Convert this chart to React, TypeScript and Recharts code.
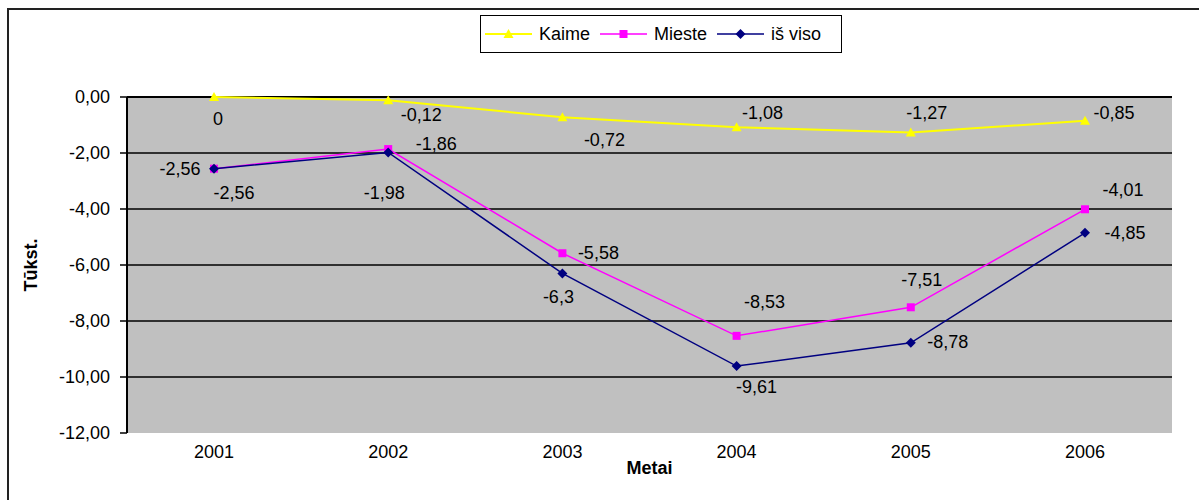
import {
  CartesianGrid,
  Label,
  Line,
  LineChart,
  ReferenceArea,
  ReferenceLine,
  XAxis,
  YAxis,
} from 'recharts'

const years = ['2001', '2002', '2003', '2004', '2005', '2006']
const kaime = [0, -0.12, -0.72, -1.08, -1.27, -0.85]
const mieste = [-2.56, -1.86, -5.58, -8.53, -7.51, -4.01]
const isViso = [-2.56, -1.98, -6.3, -9.61, -8.78, -4.85]
const yTicks = [0, -2, -4, -6, -8, -10, -12]
const gridValues = [-2, -4, -6, -8, -10]
const boundaryTicks = [1, 2, 3, 4, 5]

const FONT = '"Liberation Sans", Arial, sans-serif'

const data = years.map((year, i) => ({
  year,
  kaime: kaime[i],
  mieste: mieste[i],
  isViso: isViso[i],
}))

// label offsets from each point, the way Excel laid them out
const kaimeLbl = [[4, 22], [33, 15], [42, 23], [26, -14], [16, -20], [29, -8]]
const miesteLbl = [[-34, 0], [48, -5], [36, 0], [28, -34], [11, -27], [38, -19]]
const isVisoLbl = [[20, 24], [-4, 41], [-4, 24], [20, 21], [37, -1], [40, 0]]

const fmtNum = (v: number) => String(v).replace('.', ',')

function Marker({ kind, cx, cy, color }: { kind: string; cx: number; cy: number; color: string }) {
  if (kind === 'triangle')
    return <polygon points={`${cx},${cy - 5} ${cx + 5},${cy + 4} ${cx - 5},${cy + 4}`} fill={color} />
  if (kind === 'square') return <rect x={cx - 4} y={cy - 4} width={8} height={8} fill={color} />
  return <polygon points={`${cx},${cy - 5} ${cx + 5},${cy} ${cx},${cy + 5} ${cx - 5},${cy}`} fill={color} />
}

const series = [
  { key: 'kaime', name: 'Kaime', color: '#FFFF00', width: 2, marker: 'triangle', lbl: kaimeLbl },
  { key: 'mieste', name: 'Mieste', color: '#FF00FF', width: 1.5, marker: 'square', lbl: miesteLbl },
  { key: 'isViso', name: 'iš viso', color: '#000080', width: 1.5, marker: 'diamond', lbl: isVisoLbl },
]

function makeLabel(offsets: number[][]) {
  return (p: any) => {
    const [dx, dy] = offsets[p.index] ?? [0, 0]
    return (
      <text
        key={`l-${p.index}`}
        x={p.x + dx}
        y={p.y + dy}
        textAnchor="middle"
        dominantBaseline="central"
        fontSize={18}
        fontFamily={FONT}
        fill="#000"
      >
        {fmtNum(p.value)}
      </text>
    )
  }
}

function YTitle(props: any) {
  const vb = props.viewBox
  const x = vb.x + 14
  const y = vb.y + vb.height / 2
  return (
    <text
      x={x}
      y={y}
      transform={`rotate(-90 ${x} ${y})`}
      textAnchor="middle"
      dominantBaseline="central"
      fontSize={18}
      fontWeight={700}
      fontFamily={FONT}
      fill="#000"
    >
      Tūkst.
    </text>
  )
}

function LegendBox() {
  return (
    <div
      style={{
        position: 'absolute',
        left: 480,
        top: 15,
        width: 362,
        height: 38,
        boxSizing: 'border-box',
        border: '1.5px solid #000',
        background: '#fff',
        display: 'flex',
        alignItems: 'center',
        paddingLeft: 4,
        fontFamily: FONT,
        fontSize: 18,
        color: '#000',
      }}
    >
      {series.map(s => (
        <div key={s.key} style={{ display: 'flex', alignItems: 'center', marginRight: 10 }}>
          <svg width={47} height={14} style={{ marginRight: 7 }}>
            <line x1={0} y1={7} x2={47} y2={7} stroke={s.color} strokeWidth={s.width} />
            <Marker kind={s.marker} cx={23.5} cy={7} color={s.color} />
          </svg>
          <span>{s.name}</span>
        </div>
      ))}
    </div>
  )
}

export default function App() {
  return (
    <div
      style={{
        position: 'absolute',
        left: 0,
        top: 0,
        width: 1199,
        height: 500,
        background: '#fff',
        overflow: 'hidden',
      }}
    >
      <div
        style={{
          position: 'absolute',
          left: 7,
          top: 8,
          width: 1230,
          height: 540,
          borderLeft: '2px solid #222',
          borderTop: '2px solid #222',
        }}
      />
      <LineChart
        width={1199}
        height={500}
        data={data}
        margin={{ top: 97, right: 27, bottom: 22, left: 17 }}
        style={{ position: 'absolute', left: 0, top: 0 }}
      >
        <CartesianGrid
          vertical={false}
          horizontalValues={gridValues}
          stroke="#000"
          strokeWidth={1.5}
          fill="#C0C0C0"
          fillOpacity={1}
        />
        <ReferenceArea
          xAxisId="top"
          x1={0}
          x2={6}
          y1={-12}
          y2={0}
          fill="none"
          stroke="#808080"
          strokeWidth={1.5}
        />
        <XAxis
          dataKey="year"
          height={45}
          padding={{ left: 87, right: 87 }}
          axisLine={false}
          tickLine={false}
          tickMargin={6}
          tick={{ fontSize: 18, fill: '#000', fontFamily: FONT }}
        >
          <Label
            value="Metai"
            position="insideBottom"
            offset={4}
            style={{ fontSize: 18, fontWeight: 700, fill: '#000', fontFamily: FONT }}
          />
        </XAxis>
        <XAxis
          xAxisId="top"
          type="number"
          orientation="top"
          domain={[0, 6]}
          ticks={boundaryTicks}
          height={0}
          axisLine={false}
          tick={false}
          mirror
          tickSize={5}
          tickLine={{ stroke: '#000', strokeWidth: 1.5 }}
        />
        <YAxis
          type="number"
          domain={[-12, 0]}
          ticks={yTicks}
          interval={0}
          width={110}
          axisLine={{ stroke: '#000', strokeWidth: 2 }}
          tickLine={{ stroke: '#000', strokeWidth: 1.5 }}
          tickSize={7}
          tickMargin={10}
          tickFormatter={(v: number) => v.toFixed(2).replace('.', ',')}
          tick={{ fontSize: 18, fill: '#000', fontFamily: FONT }}
        >
          <Label content={<YTitle />} />
        </YAxis>
        <ReferenceLine y={0} stroke="#000" strokeWidth={2} />
        {series.map(s => (
          <Line
            key={s.key}
            dataKey={s.key}
            name={s.name}
            type="linear"
            stroke={s.color}
            strokeWidth={s.width}
            isAnimationActive={false}
            dot={(p: any) => (
              <Marker key={`${s.key}-${p.index}`} kind={s.marker} cx={p.cx} cy={p.cy} color={s.color} />
            )}
            activeDot={false}
            label={makeLabel(s.lbl)}
          />
        ))}
      </LineChart>
      <LegendBox />
    </div>
  )
}
